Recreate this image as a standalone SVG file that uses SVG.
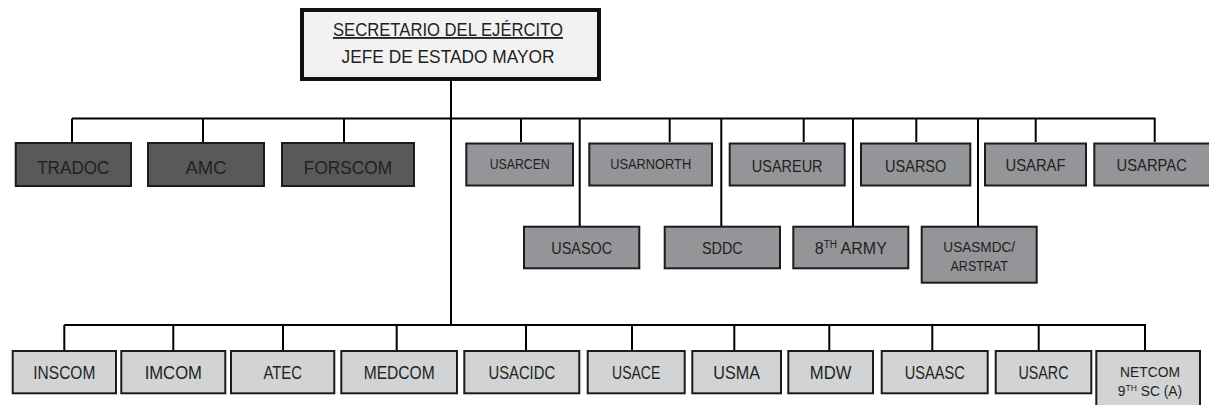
<svg xmlns="http://www.w3.org/2000/svg" width="1209" height="405" viewBox="0 0 1209 405">
<style>
.t{font-family:"Liberation Sans",Arial,sans-serif;fill:#231f20;text-anchor:middle}
.s18{font-size:18.5px}.s16{font-size:17px}.s165{font-size:17.5px}.s135{font-size:13.8px}
.top{fill:#f2f2f2;stroke:#111;stroke-width:4}
.dk{fill:#58595b;stroke:#1c1c1c;stroke-width:2}
.md{fill:#939598;stroke:#1c1c1c;stroke-width:2}
.lt{fill:#d1d3d4;stroke:#1c1c1c;stroke-width:2}
.c{stroke:#000;stroke-width:2;fill:none}
</style>
<rect width="1209" height="405" fill="#fff"/>
<g id="connectors" class="c">
<path d="M451 81V325"/>
<path d="M72 118.5H1155.5"/>
<path d="M72 118.5V142M203 118.5V142M344 118.5V142"/>
<path d="M521 118.5V142M669.7 118.5V142M803.7 118.5V142M916.3 118.5V142M1035.7 118.5V142M1154.7 118.5V142"/>
<path d="M579.7 118.5V226M721.3 118.5V226M853 118.5V226M978 118.5V226"/>
<path d="M64.3 325H1146"/>
<path d="M64.3 325V350M173.3 325V350M283 325V350M396.7 325V350M526 325V350M632 325V350M734.3 325V350M829.3 325V350M932.3 325V350M1038.7 325V350M1145 325V350"/>
</g>
<g id="secretario">
<rect class="top" x="302" y="10" width="297" height="69"/>
<text class="t" x="448" y="36" style="font-size:18.5px;text-decoration:underline" textLength="230" lengthAdjust="spacingAndGlyphs">SECRETARIO DEL EJÉRCITO</text>
<text class="t" x="448" y="63.3" style="font-size:18.5px" textLength="213" lengthAdjust="spacingAndGlyphs">JEFE DE ESTADO MAYOR</text>
</g>
<g id="tradoc"><rect class="dk" x="15.7" y="143" width="115.3" height="43"/><text class="t s18" x="73.3" y="174" textLength="72.3" lengthAdjust="spacingAndGlyphs">TRADOC</text></g>
<g id="amc"><rect class="dk" x="148" y="143" width="116" height="43"/><text class="t s18" x="206" y="174" textLength="41" lengthAdjust="spacingAndGlyphs">AMC</text></g>
<g id="forscom"><rect class="dk" x="282" y="143" width="132" height="43"/><text class="t s18" x="348" y="174" textLength="88.3" lengthAdjust="spacingAndGlyphs">FORSCOM</text></g>
<g id="usarcen"><rect class="md" x="466.3" y="143.5" width="106.7" height="42"/><text class="t s135" x="519.7" y="169" textLength="60" lengthAdjust="spacingAndGlyphs">USARCEN</text></g>
<g id="usarnorth"><rect class="md" x="589.3" y="143.5" width="122.7" height="42"/><text class="t s135" x="650.7" y="169" textLength="81" lengthAdjust="spacingAndGlyphs">USARNORTH</text></g>
<g id="usareur"><rect class="md" x="729.7" y="143.5" width="115" height="42"/><text class="t s16" x="787.2" y="171.5" textLength="70.7" lengthAdjust="spacingAndGlyphs">USAREUR</text></g>
<g id="usarso"><rect class="md" x="861" y="143.5" width="109.3" height="42"/><text class="t s16" x="915.7" y="171.5" textLength="61.3" lengthAdjust="spacingAndGlyphs">USARSO</text></g>
<g id="usaraf"><rect class="md" x="985" y="143.5" width="101" height="42"/><text class="t s16" x="1035.5" y="171" textLength="60" lengthAdjust="spacingAndGlyphs">USARAF</text></g>
<g id="usarpac"><rect class="md" x="1094.3" y="143.5" width="118" height="42"/><text class="t s16" x="1151.7" y="171" textLength="70.3" lengthAdjust="spacingAndGlyphs">USARPAC</text></g>
<g id="usasoc"><rect class="md" x="524" y="226.7" width="115.3" height="41.6"/><text class="t s16" x="581.7" y="254.3" textLength="60.7" lengthAdjust="spacingAndGlyphs">USASOC</text></g>
<g id="sddc"><rect class="md" x="664.7" y="226.7" width="115.3" height="41.6"/><text class="t s16" x="722.3" y="254.3" textLength="40.7" lengthAdjust="spacingAndGlyphs">SDDC</text></g>
<g id="army8"><rect class="md" x="793.3" y="226.7" width="115" height="41.6"/><text class="t" x="850.8" y="254.3" style="font-size:16px">8<tspan dy="-6" style="font-size:10px">TH</tspan><tspan dy="6"> ARMY</tspan></text></g>
<g id="usasmdc"><rect class="md" x="921.7" y="226.7" width="115" height="56"/><text class="t s135" x="979.2" y="251.7" textLength="71.7" lengthAdjust="spacingAndGlyphs">USASMDC/</text><text class="t s135" x="979.2" y="270.7" textLength="57.3" lengthAdjust="spacingAndGlyphs">ARSTRAT</text></g>
<g id="inscom"><rect class="lt" x="12.7" y="351" width="103.3" height="42.3"/><text class="t s165" x="64.3" y="379.3" textLength="62" lengthAdjust="spacingAndGlyphs">INSCOM</text></g>
<g id="imcom"><rect class="lt" x="121.3" y="351" width="104" height="42.3"/><text class="t s165" x="173.3" y="379.3" textLength="57.3" lengthAdjust="spacingAndGlyphs">IMCOM</text></g>
<g id="atec"><rect class="lt" x="231" y="351" width="103.3" height="42.3"/><text class="t s165" x="282.7" y="379.3" textLength="38.3" lengthAdjust="spacingAndGlyphs">ATEC</text></g>
<g id="medcom"><rect class="lt" x="341.3" y="351" width="115.7" height="42.3"/><text class="t s165" x="399.2" y="379.3" textLength="71" lengthAdjust="spacingAndGlyphs">MEDCOM</text></g>
<g id="usacidc"><rect class="lt" x="464.3" y="351" width="115" height="42.3"/><text class="t s165" x="521.8" y="379.3" textLength="66.7" lengthAdjust="spacingAndGlyphs">USACIDC</text></g>
<g id="usace"><rect class="lt" x="587.7" y="351" width="97" height="42.3"/><text class="t s165" x="636.2" y="379.3" textLength="48.3" lengthAdjust="spacingAndGlyphs">USACE</text></g>
<g id="usma"><rect class="lt" x="692.3" y="351" width="88.7" height="42.3"/><text class="t s165" x="736.7" y="379.3" textLength="46.7" lengthAdjust="spacingAndGlyphs">USMA</text></g>
<g id="mdw"><rect class="lt" x="788.3" y="351" width="84.7" height="42.3"/><text class="t s165" x="830.7" y="379.3" textLength="41.7" lengthAdjust="spacingAndGlyphs">MDW</text></g>
<g id="usaasc"><rect class="lt" x="881.7" y="351" width="106" height="42.3"/><text class="t s165" x="934.7" y="379.3" textLength="60" lengthAdjust="spacingAndGlyphs">USAASC</text></g>
<g id="usarc"><rect class="lt" x="995.7" y="351" width="95.6" height="42.3"/><text class="t s165" x="1043.5" y="379.3" textLength="50" lengthAdjust="spacingAndGlyphs">USARC</text></g>
<g id="netcom"><rect class="lt" x="1096.3" y="351" width="103.7" height="60"/><text class="t s135" x="1150" y="376.5">NETCOM</text><text class="t s135" x="1150" y="395.5">9<tspan dy="-5" style="font-size:8.5px">TH</tspan><tspan dy="5"> SC (A)</tspan></text></g>
</svg>
